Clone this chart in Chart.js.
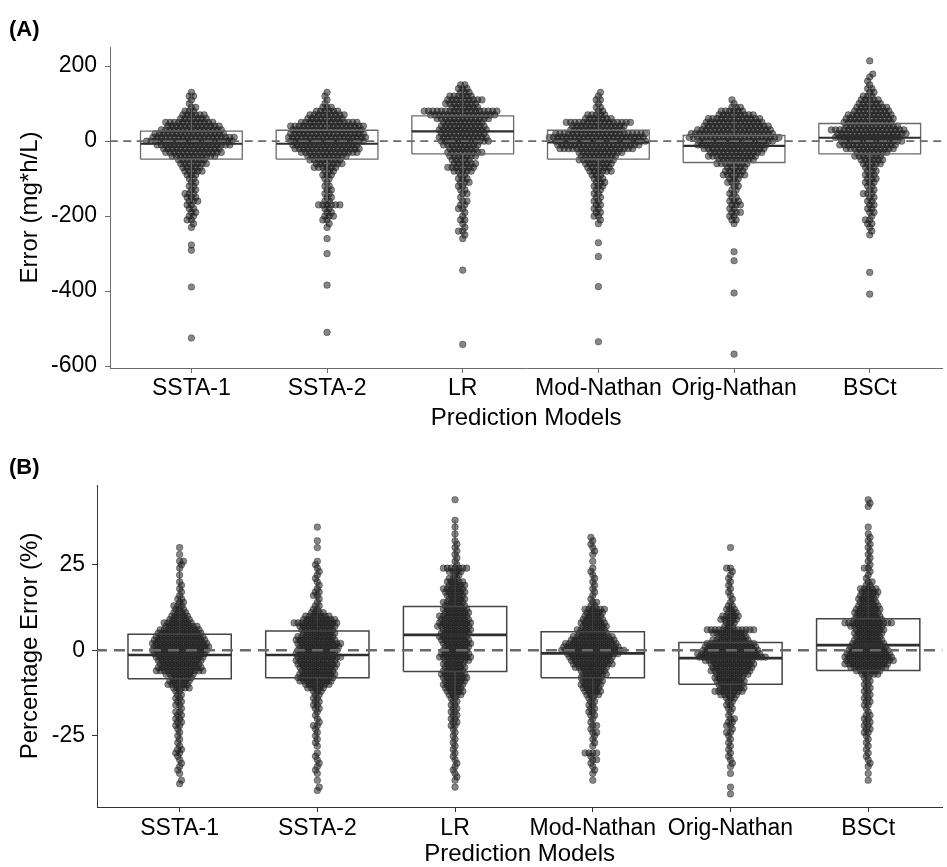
<!DOCTYPE html>
<html>
<head>
<meta charset="utf-8">
<script src="https://cdn.jsdelivr.net/npm/chart.js@4.4.1/dist/chart.umd.min.js"></script>
<style>
html, body { margin: 0; padding: 0; background: #fff; overflow: hidden; }
body { width: 947px; height: 867px; position: relative; font-family: "Liberation Sans", Arial, sans-serif; }
.panel { position: absolute; left: 0; width: 947px; height: 440px; }
.tag { position: absolute; left: 9px; font-weight: bold; font-size: 22px; line-height: 22px; color: #000; }
</style>
</head>
<body>
<div class="panel" style="top:0"><canvas id="chartA" width="947" height="440"></canvas></div>
<div class="panel" style="top:440px"><canvas id="chartB" width="947" height="440"></canvas></div>
<div class="tag" style="top:18px">(A)</div>
<div class="tag" style="top:456px">(B)</div>
<script>
const categories = ['SSTA-1', 'SSTA-2', 'LR', 'Mod-Nathan', 'Orig-Nathan', 'BSCt'];
const xTickValues = [1, 2, 3, 4, 5, 6];

// ---- Panel A: Error (mg*h/L) ----
const yTicksA = [200, 0, -200, -400, -600];
const levelsA = [150, 140, 130, 120, 110, 100, 90, 80, 70, 60, 50, 40, 30, 20, 10, 0, -10, -20, -30, -40, -50,
  -60, -70, -80, -90, -100, -110, -120, -130, -140, -150, -160, -170, -180, -190, -200, -210, -220, -230, -240, -250, -260];
// number of dots seen at each level, per model
const countsA_ssta1 = [0,0,1,2,1,1,2,3,6,7, 12,13,15,17,20,21,18,14,14,11, 7,7,5,5,3,2,2,2,2,3, 3,3,2,2,2,2,2,1,1,0, 0,0];
const countsA_ssta2 = [0,0,1,1,1,1,3,6,9,9, 14,18,17,18,19,18,16,16,14,10, 8,7,6,3,3,2,1,2,2,2, 2,2,6,2,2,3,2,1,1,0, 0,1];
const countsA_lr    = [2,3,3,6,9,8,7,18,16,13, 10,11,12,11,12,12,9,7,9,7, 5,6,7,5,2,3,3,2,2,2, 1,2,2,2,1,1,2,1,1,2, 1,1];
const countsA_mod   = [0,0,1,1,2,1,2,2,5,7, 16,13,13,22,23,22,20,18,11,9, 9,7,6,6,3,3,3,3,2,2, 2,2,2,2,2,2,1,1,0,0, 0,0];
const countsA_orig  = [0,0,0,0,1,1,3,6,9,13, 14,16,18,20,22,18,17,15,13,12, 9,8,5,5,6,3,3,2,2,2, 2,3,3,2,3,2,2,1,0,0, 0,0];
const countsA_bsct  = [1,2,2,3,5,6,8,9,11,12, 12,13,18,17,16,15,14,12,8,7, 6,5,3,3,3,3,3,2,2,3, 2,2,2,2,2,1,2,2,1,1, 1,0];
const outliersA = [
  [-277, -291, -389, -525],
  [-300, -384, -510],
  [-344, -542],
  [-271, -308, -388, -535],
  [-295, -319, -405, -568],
  [214, 179, 171, 160, -350, -408]
];
const q1A  = [-48, -48, -34, -48, -57, -34];
const medA = [-7, -7, 25.8, -3.5, -12.4, 9];
const q3A  = [26.7, 29, 67.6, 29, 15, 47];
const loA  = [-160, -160, -180, -160, -160, -150];
const hiA  = [130, 130, 150, 130, 110, 160];

// ---- Panel B: Percentage Error (%) ----
const yTicksB = [25, 0, -25];
const levelsB = [44, 43, 42, 41, 40, 39, 38, 37, 36, 35, 34, 33, 32, 31, 30, 29, 28, 27, 26, 25,
  24, 23, 22, 21, 20, 19, 18, 17, 16, 15, 14, 13, 12, 11, 10, 9, 8, 7, 6, 5,
  4, 3, 2, 1, 0, -1, -2, -3, -4, -5, -6, -7, -8, -9, -10, -11, -12, -13, -14, -15,
  -16, -17, -18, -19, -20, -21, -22, -23, -24, -25, -26, -27, -28, -29, -30, -31, -32, -33, -34, -35,
  -36, -37, -38, -39, -40, -41, -42];
const countsB_ssta1 = [0,0,0,0,0,0,0,0,0,0, 0,0,0,0,1,0,1,0,2,1, 1,0,1,0,1,1,1,1,1,2,
  2,3,3,4,5,6,8,9,11,12, 13,14,15,15,15,14,13,12,11,12, 13,8,6,6,6,5,2,2,2,2,
  2,1,2,2,2,2,2,1,1,1, 1,1,1,2,2,1,1,1,1,1, 1,0,1,1,0,0,0];
const countsB_ssta2 = [0,0,0,0,0,0,0,0,1,0, 0,0,1,0,1,0,0,0,1,1, 1,1,1,1,1,1,1,2,2,1,
  1,2,2,4,7,9,12,10,9,9, 10,11,12,11,11,11,12,11,11,10, 9,10,10,9,7,5,3,2,2,2,
  2,2,1,1,1,1,2,1,1,1, 1,1,1,0,1,1,1,1,1,1, 1,0,1,0,1,1,0];
const countsB_lr    = [1,0,0,0,0,0,1,0,1,0, 1,0,1,1,1,1,1,1,1,1, 7,4,2,3,5,5,6,6,5,5,
  6,6,7,7,8,8,9,9,8,8, 8,8,8,7,7,8,9,7,6,6, 6,7,7,6,6,5,5,4,2,2,
  2,2,2,2,2,2,2,1,1,1, 1,1,1,1,1,1,1,1,1,1, 1,1,1,0,1,0,0];
const countsB_mod   = [0,0,0,0,0,0,0,0,0,0, 0,1,1,1,1,1,1,0,1,0, 1,1,1,1,1,1,1,1,1,1,
  2,2,6,5,5,6,7,7,8,8, 11,12,14,15,17,14,12,11,11,9, 7,7,6,6,6,5,5,4,2,2,
  2,2,2,2,1,1,2,1,2,1, 1,1,1,0,4,1,2,1,1,1, 1,0,1,0,0,0,0];
const countsB_orig  = [0,0,0,0,0,0,0,0,0,0, 0,0,0,0,1,0,0,0,0,0, 2,1,1,1,1,1,1,1,1,1,
  1,2,3,3,5,5,3,3,13,9, 8,10,13,14,15,17,18,13,12,11, 11,9,8,8,7,7,8,5,3,2,
  2,2,1,1,2,2,2,1,2,1, 1,1,1,1,1,1,1,1,1,0, 1,0,0,0,1,0,1];
const countsB_bsct  = [1,1,1,0,0,0,0,0,1,0, 1,1,1,1,1,1,1,1,1,1, 2,1,1,1,2,2,5,5,5,5,
  5,6,7,7,7,8,13,9,8,8, 7,8,9,10,11,12,13,13,12,10, 7,5,2,2,2,2,2,2,2,2,
  2,1,1,2,2,2,2,2,2,1, 1,1,1,1,1,1,1,1,1,0, 1,0,1,0,0,0,0];
const outliersB = [[], [], [], [], [], []];
const q1B  = [-8.3, -8, -6.2, -8, -9.9, -5.9];
const medB = [-1.4, -1.4, 4.5, -0.9, -2.3, 1.5];
const q3B  = [4.7, 5.6, 12.8, 5.4, 2.3, 9.2];
const loB  = [-26, -28, -34, -28, -28, -28];
const hiB  = [24, 26, 38, 24, 20, 30];

const FONT = '"Liberation Sans", Arial, sans-serif';
const BOX_HALF = 0.375;

function expand(levels, counts, extra) {
  const vals = [];
  levels.forEach((lv, k) => {
    for (let n = 0; n < counts[k]; n++) vals.push(lv);
  });
  return vals.concat(extra);
}

// beeswarm: each dot goes to the nearest free spot beside the category centre
function swarm(chart, groups, spacing) {
  const xs = chart.scales.x, ys = chart.scales.y;
  const out = [];
  groups.forEach((vals, gi) => {
    const cx = xs.getPixelForValue(gi + 1);
    const placed = [];
    let side = 1;
    vals.slice().sort((a, b) => a - b).forEach(v => {
      const py = ys.getPixelForValue(v);
      const blocks = [];
      placed.forEach(q => {
        const dy = Math.abs(q.py - py);
        if (dy < spacing) {
          const h = Math.sqrt(spacing * spacing - dy * dy);
          blocks.push([q.dx - h, q.dx + h]);
        }
      });
      const cands = [0];
      blocks.forEach(b => cands.push(b[0], b[1]));
      let best = null;
      cands.forEach(c => {
        if (blocks.some(b => c > b[0] + 1e-6 && c < b[1] - 1e-6)) return;
        if (best === null || Math.abs(c) < Math.abs(best) - 1e-6 ||
            (Math.abs(Math.abs(c) - Math.abs(best)) < 1e-6 && Math.sign(c) === side)) best = c;
      });
      if (best !== 0) side = -side;
      placed.push({ dx: best, py: py });
      out.push({ x: xs.getValueForPixel(cx + best), y: v });
    });
  });
  return out;
}

function buildPanel(canvasId, p) {
  const boxPts = [], medPts = [], whiskPts = [];
  categories.forEach((c, i) => {
    const x = i + 1;
    boxPts.push({ x: x - BOX_HALF, y: p.q1[i] }, { x: x + BOX_HALF, y: p.q1[i] },
      { x: x + BOX_HALF, y: p.q3[i] }, { x: x - BOX_HALF, y: p.q3[i] },
      { x: x - BOX_HALF, y: p.q1[i] }, { x: x, y: null });
    medPts.push({ x: x - BOX_HALF, y: p.med[i] }, { x: x + BOX_HALF, y: p.med[i] }, { x: x, y: null });
    whiskPts.push({ x: x, y: p.q3[i] }, { x: x, y: p.hi[i] }, { x: x, y: null },
      { x: x, y: p.q1[i] }, { x: x, y: p.lo[i] }, { x: x, y: null });
  });

  const chart = new Chart(document.getElementById(canvasId), {
    type: 'scatter',
    data: {
      datasets: [
        { // dashed zero line, on top
          data: [{ x: 0, y: 0 }, { x: 7, y: 0 }],
          showLine: true, pointRadius: 0,
          borderColor: '#6a6a6a', borderWidth: p.zeroWidth, borderDash: p.zeroDash
        },
        {
          data: medPts, showLine: true, pointRadius: 0, spanGaps: false,
          borderColor: '#2e2e2e', borderWidth: p.medWidth, borderCapStyle: 'butt'
        },
        {
          data: boxPts, showLine: true, pointRadius: 0, spanGaps: false,
          borderColor: p.boxColor, borderWidth: p.boxWidth, borderJoinStyle: 'miter'
        },
        {
          data: whiskPts, showLine: true, pointRadius: 0, spanGaps: false,
          borderColor: p.boxColor, borderWidth: 1
        },
        { // the dots
          data: [],
          pointRadius: 3.3,
          pointBackgroundColor: 'rgba(35,35,35,0.55)',
          pointBorderColor: 'rgba(0,0,0,0.45)',
          pointBorderWidth: 0.7
        }
      ]
    },
    options: {
      responsive: false,
      animation: false,
      events: [],
      layout: { padding: { top: p.padTop, left: 0, right: 0, bottom: 0 } },
      plugins: { legend: { display: false }, tooltip: { enabled: false } },
      scales: {
        x: {
          type: 'linear', min: 0.4, max: p.xMax,
          afterBuildTicks: s => { s.ticks = xTickValues.map(v => ({ value: v })); },
          afterFit: s => { s.height = p.xAxisH; },
          ticks: {
            autoSkip: false, maxRotation: 0, padding: p.xTickPad, color: '#000',
            font: { family: FONT, size: 23 },
            callback: v => categories[v - 1]
          },
          grid: { drawOnChartArea: false, drawTicks: true, tickLength: 5, color: p.axisColor, lineWidth: 1 },
          border: { display: true, color: p.axisColor, width: 1 },
          title: {
            display: true, text: 'Prediction Models', color: '#000',
            font: { family: FONT, size: 24 }, padding: { top: 0, bottom: p.xTitlePad }
          }
        },
        y: {
          type: 'linear', min: p.yMin, max: p.yMax,
          afterBuildTicks: s => { s.ticks = p.yTicks.map(v => ({ value: v })); },
          afterFit: s => { s.width = p.yAxisW; },
          ticks: {
            padding: p.yTickPad, color: '#000',
            font: { family: FONT, size: 23 },
            callback: v => String(v)
          },
          grid: { drawOnChartArea: false, drawTicks: true, tickLength: 5, color: p.axisColor, lineWidth: 1 },
          border: { display: true, color: p.axisColor, width: 1 },
          title: {
            display: true, text: p.yTitle, color: '#000',
            font: { family: FONT, size: 24 }, padding: { top: p.yTitlePad, bottom: 0 }
          }
        }
      }
    }
  });

  chart.data.datasets[4].data = swarm(chart, p.groups, p.spacing);
  chart.update('none');
  return chart;
}

buildPanel('chartA', {
  groups: [
    expand(levelsA, countsA_ssta1, outliersA[0]),
    expand(levelsA, countsA_ssta2, outliersA[1]),
    expand(levelsA, countsA_lr, outliersA[2]),
    expand(levelsA, countsA_mod, outliersA[3]),
    expand(levelsA, countsA_orig, outliersA[4]),
    expand(levelsA, countsA_bsct, outliersA[5])
  ],
  q1: q1A, med: medA, q3: q3A, lo: loA, hi: hiA,
  yTicks: yTicksA, yMin: -605, yMax: 251, xMax: 6.535,
  yTitle: 'Error (mg*h/L)',
  padTop: 47, yAxisW: 110, xAxisH: 72,
  xTickPad: 2, yTickPad: 8, xTitlePad: 7, yTitlePad: 16,
  axisColor: '#6a6a6a', boxColor: '#6a6a6a', boxWidth: 1.3, medWidth: 2.2,
  zeroWidth: 1.6, zeroDash: [8, 5.5], spacing: 4.3
});

buildPanel('chartB', {
  groups: [
    expand(levelsB, countsB_ssta1, outliersB[0]),
    expand(levelsB, countsB_ssta2, outliersB[1]),
    expand(levelsB, countsB_lr, outliersB[2]),
    expand(levelsB, countsB_mod, outliersB[3]),
    expand(levelsB, countsB_orig, outliersB[4]),
    expand(levelsB, countsB_bsct, outliersB[5])
  ],
  q1: q1B, med: medB, q3: q3B, lo: loB, hi: hiB,
  yTicks: yTicksB, yMin: -45.8, yMax: 48.3, xMax: 6.538,
  yTitle: 'Percentage Error (%)',
  padTop: 45, yAxisW: 97, xAxisH: 73,
  xTickPad: 3, yTickPad: 7, xTitlePad: 11, yTitlePad: 16,
  axisColor: '#333', boxColor: '#444', boxWidth: 1.5, medWidth: 2.6,
  zeroWidth: 2.6, zeroDash: [11, 7], spacing: 3.9
});
</script>
</body>
</html>
